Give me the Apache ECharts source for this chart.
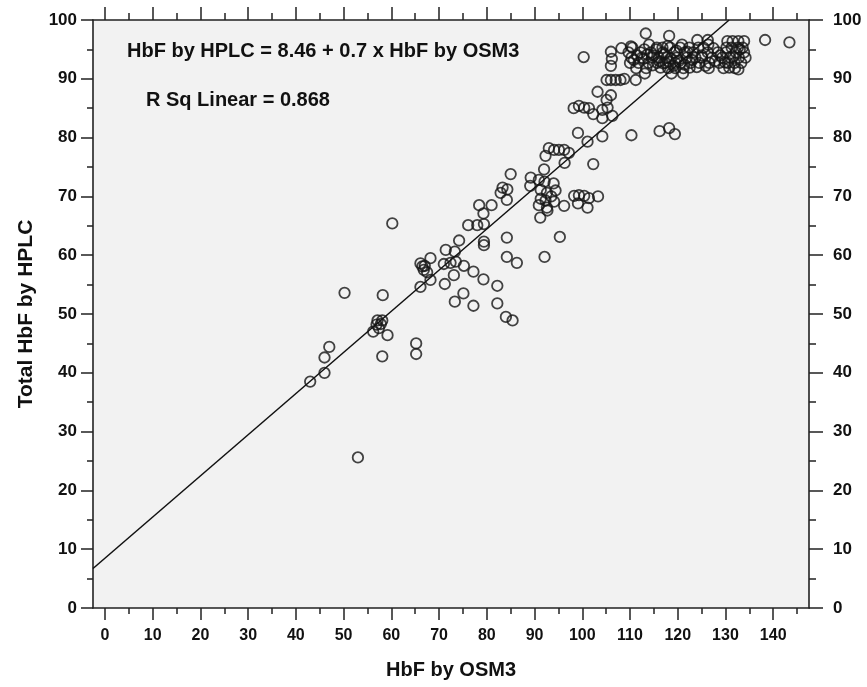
<!DOCTYPE html>
<html>
<head>
<meta charset="utf-8">
<script src="https://cdn.jsdelivr.net/npm/echarts@6/dist/echarts.min.js"></script>
<style>html,body{margin:0;padding:0;background:#fff;}#c{width:867px;height:687px;}</style>
</head>
<body>
<div id="c"></div>
<script>
// ---- data ----
var xMajorTicks = [0,10,20,30,40,50,60,70,80,90,100,110,120,130,140];
var xMinorTicks = [5,15,25,35,45,55,65,75,85,95,105,115,125,135,145];
var equationText = 'HbF by HPLC = 8.46 + 0.7 x HbF by OSM3';
var rsqText = 'R Sq Linear = 0.868';
var fitLine = [[-2.5, 6.71], [130.77, 100]];

var pointsLow = [
  [43,38.5],[46,40],[46,42.6],[47,44.4],[53,25.6],[50.2,53.6],[58.2,53.2],[58.1,42.8],[59.2,46.4],
  [65.2,45],[65.2,43.2],[60.2,65.4],[56.2,47],[57.1,48.9],[58.1,48.9],[57.4,47.6],[56.9,48.2],[57.8,48.3]
];
var pointsMid = [
  [66.1,58.6],[67,58.2],[68.2,59.5],[66.8,57.5],[67.5,57.1],[66.1,54.6],[68.2,55.8],[66.5,58.1],
  [71.4,60.9],[74.2,62.5],[73.3,60.6],[71,58.5],[72.4,58.7],[73.5,58.9],[75.2,58.2],[77.2,57.2],
  [79.3,55.9],[73.1,56.6],[71.2,55.1],[75.1,53.5],[73.3,52.1],[77.2,51.4],[82.2,54.8],[82.2,51.8],
  [84,49.5],[85.4,48.9],[84.2,63],[84.2,59.7],[86.3,58.7],[92.1,59.7],
  [76.1,65.1],[78,65.1],[79.4,65.3],[79.4,62.3],[79.4,61.7],[78.4,68.5],[81,68.5],[79.3,67.1],
  [83.3,71.5],[84.3,71.2],[82.9,70.6],[84.2,69.4],[85,73.8]
];
var pointsUpper = [
  [89.2,73.2],[89.1,71.8],[90.9,72.8],[92.1,72.5],[94,72.2],[94.4,71],[91.3,71.1],[92.6,70.6],
  [93.5,70],[91.3,69.6],[92.3,69.3],[90.9,68.5],[92.6,68.1],[94.1,69.1],[92.7,67.6],[91.2,66.4],
  [92,74.6],[92.3,76.9],[95.3,63.1],[96.2,68.4],
  [98.3,70.1],[99.3,70.2],[100.4,70.1],[101.4,69.7],[99.1,68.8],[101.1,68.1],[103.3,70],[102.3,75.5],
  [93,78.2],[94.1,77.9],[95.1,77.9],[96.2,77.9],[97.2,77.4],[96.3,75.7],
  [99.1,80.8],[101.1,79.3],[104.2,80.2],[110.3,80.4],[116.2,81.1],[118.2,81.6],[119.4,80.6],
  [98.2,85],[99.3,85.4],[100.4,85.1],[101.4,85],[102.3,84],[104.2,84.7],[105.3,85.1],[104.2,83.3],
  [106.3,83.7],[103.2,87.8],[106,87.2],[105.1,86.4],
  [105.1,89.8],[106,89.8],[107,89.8],[108,89.8],[108.8,90],[111.2,89.8],
  [106,92.2],[106.2,93.4],[106,94.6],[108.2,95.2],[110.2,95.5],[100.3,93.7]
];
var pointsTop = [
  [113.3,97.7],[118.2,97.3],[124.1,96.6],[126.3,96.6],[126.4,95.8],[138.3,96.6],[143.4,96.2],
  [130.4,96.4],[131.5,96.4],[132.7,96.4],[133.9,96.4],
  [110.5,95.3],[115.6,95.3],[116.8,95.3],[118.4,95.3],[120.5,95.3],[122.4,95.3],[124.3,95.3],[125.4,95.3],[130.2,95.3],[131.3,95.3],[132.6,95.3],[133.6,95.3],
  [109.7,94.5],[112.2,94.5],[114.4,94.5],[116.9,94.5],[119.3,94.5],[121.5,94.5],[123.2,94.5],[126.3,94.5],[128.4,94.5],[130.1,94.5],[132.2,94.5],[133.9,94.5],
  [110.3,93.6],[112.5,93.6],[114.6,93.6],[116,93.6],[117.7,93.6],[119.8,93.6],[121.9,93.6],[123.7,93.6],[125.1,93.6],[127.2,93.6],[129.3,93.6],[131,93.6],[132.8,93.6],[134.2,93.6],
  [110,92.7],[111.8,92.7],[113.9,92.7],[115.7,92.7],[117.4,92.7],[119.5,92.7],[120.6,92.7],[122.7,92.7],[124.5,92.7],[126.6,92.7],[128.7,92.7],[130.5,92.7],[131.9,92.7],[133.3,92.7],
  [111.3,91.8],[113.4,91.8],[118,91.8],[119.5,91.8],[121.2,91.8],[126.5,91.8],[129.6,91.8],[132,91.8],[132.7,91.6],
  [113.1,90.9],[118.7,90.9],[121.1,90.9],
  [113,95],[114,95.8],[115,94],[115.5,95],[116.2,93],[117.2,94.2],[117.9,95.6],[118.5,93.5],[119.1,92.2],
  [119.7,94.8],[120.2,93],[120.9,95.8],[121.4,92.4],[122,94.6],[122.5,91.9],[123,93.2],[114.8,92.3],
  [116.4,91.9],[117,92.6],[118.2,92.9],[112.8,93.4],[113.6,94.1],[111.5,94],[110.8,93.2],[125.8,92.2],
  [127.8,93],[128.9,94],[129.9,92.8],[131.6,93.8],[130.8,91.9],[133,95],[127.5,95.2],[124,92],[125,94]
];

var allPoints = pointsLow.concat(pointsMid, pointsUpper, pointsTop);

var FONT = '"Liberation Sans", Arial, Helvetica, sans-serif';
var AX = '#222';

function xAxisDef(pos, ticks, len, showLine, labels, extra) {
  var a = {
    type: 'value', position: pos, min: -2.5, max: 147.5,
    axisLine: { show: showLine, onZero: false, lineStyle: { color: AX, width: 1.6 } },
    axisTick: { show: true, inside: false, length: len, customValues: ticks, lineStyle: { color: AX, width: 1.5 } },
    axisLabel: labels ? { show: true, customValues: ticks, margin: 20, fontSize: 16, fontWeight: 'bold', color: '#111', fontFamily: FONT } : { show: false },
    splitLine: { show: false }
  };
  if (extra) { for (var k in extra) a[k] = extra[k]; }
  return a;
}
function yAxisDef(pos, len, minorLen, margin, extra) {
  var a = {
    type: 'value', position: pos, min: 0, max: 100, interval: 10,
    axisLine: { show: true, onZero: false, lineStyle: { color: AX, width: 1.6 } },
    axisTick: { show: true, inside: false, length: len, lineStyle: { color: AX, width: 1.5 } },
    minorTick: { show: true, splitNumber: 2, length: minorLen, lineStyle: { color: AX, width: 1.5 } },
    axisLabel: { show: true, margin: margin, fontSize: 17, fontWeight: 'bold', color: '#111', fontFamily: FONT },
    splitLine: { show: false }, minorSplitLine: { show: false }
  };
  if (extra) { for (var k in extra) a[k] = extra[k]; }
  return a;
}

var chart = echarts.init(document.getElementById('c'), null, { renderer: 'canvas' });
chart.setOption({
  animation: false,
  backgroundColor: '#ffffff',
  grid: { left: 93, right: 58, top: 20, bottom: 79, show: true, backgroundColor: '#f2f2f2', borderWidth: 0 },
  xAxis: [
    xAxisDef('bottom', xMajorTicks, 12, true, true, {
      name: 'HbF by OSM3', nameLocation: 'middle', nameGap: 52,
      nameTextStyle: { fontSize: 20, fontWeight: 'bold', color: '#111', fontFamily: FONT }
    }),
    xAxisDef('bottom', xMinorTicks, 6, false, false),
    xAxisDef('top', xMajorTicks, 13, true, false),
    xAxisDef('top', xMinorTicks, 7, false, false)
  ],
  yAxis: [
    yAxisDef('left', 12, 6, 16, {
      name: 'Total HbF by HPLC', nameLocation: 'middle', nameGap: 56, nameRotate: 90,
      nameTextStyle: { fontSize: 21, fontWeight: 'bold', color: '#111', fontFamily: FONT }
    }),
    yAxisDef('right', 14, 7, 24)
  ],
  graphic: [
    { type: 'text', left: 127, top: 41, style: { text: equationText, font: 'bold 20px ' + FONT, fill: '#111' } },
    { type: 'text', left: 146, top: 90, style: { text: rsqText, font: 'bold 20px ' + FONT, fill: '#111' } }
  ],
  series: [
    {
      type: 'line', xAxisIndex: 0, yAxisIndex: 0, data: fitLine, showSymbol: false, silent: true,
      lineStyle: { color: '#111', width: 1.5 }, z: 3
    },
    {
      type: 'scatter', xAxisIndex: 0, yAxisIndex: 0, data: allPoints, symbol: 'circle', symbolSize: 10.5, silent: true,
      itemStyle: { color: 'rgba(0,0,0,0)', borderColor: '#151515', borderWidth: 1.8 }, z: 4
    }
  ]
});
</script>
</body>
</html>
